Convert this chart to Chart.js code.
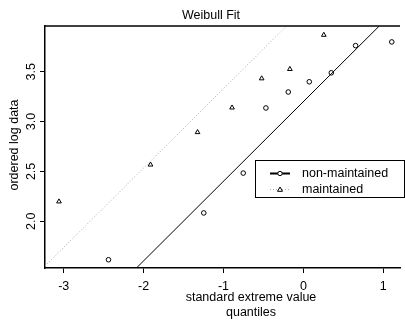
<!DOCTYPE html>
<html>
<head>
<meta charset="utf-8">
<script src="https://cdn.jsdelivr.net/npm/chart.js@4.4.1/dist/chart.umd.min.js"></script>
<style>
html,body{margin:0;padding:0;background:#fff;}
#wrap{width:405px;height:320px;position:relative;}
</style>
</head>
<body>
<div id="wrap"><canvas id="c" width="405" height="320"></canvas></div>
<script>
// Data
const nonMaintainedX = [-2.44, -1.247, -0.753, -0.469, -0.189, 0.074, 0.35, 0.654, 1.107];
const nonMaintainedY = [1.613, 2.083, 2.483, 3.137, 3.297, 3.40, 3.49, 3.763, 3.80];
const maintainedX = [-3.06, -1.914, -1.325, -0.893, -0.522, -0.169, 0.256];
const maintainedY = [2.197, 2.567, 2.893, 3.14, 3.433, 3.527, 3.87];
const nonMaintainedFitX = [-2.09, 0.95];
const nonMaintainedFitY = [1.53, 3.96];
const maintainedFitX = [-3.235, -0.21];
const maintainedFitY = [1.55, 3.96];
const xTicks = [-3, -2, -1, 0, 1];
const yTicks = [2.0, 2.5, 3.0, 3.5];
const seriesNames = ['non-maintained', 'maintained'];
const chartTitle = 'Weibull Fit';
const xTitle = ['standard extreme value', 'quantiles'];
const yTitle = 'ordered log data';

const FONT = 'Liberation Sans, Arial, sans-serif';
const FS = 12.5;
const zip = (xs, ys) => xs.map((x, i) => ({x: x, y: ys[i]}));

const decor = {
  id: 'decor',
  afterDraw(chart) {
    const ctx = chart.ctx, ca = chart.chartArea;
    ctx.save();
    // top border
    ctx.strokeStyle = '#000'; ctx.lineWidth = 1.5;
    ctx.beginPath(); ctx.moveTo(ca.left - 0.75, ca.top); ctx.lineTo(ca.right, ca.top); ctx.stroke();
    // titles
    ctx.fillStyle = '#000';
    ctx.font = FS + 'px ' + FONT;
    ctx.textAlign = 'center'; ctx.textBaseline = 'middle';
    ctx.fillText(chartTitle, 211, 15.5);
    ctx.fillText(xTitle[0], 251, 298);
    ctx.fillText(xTitle[1], 251, 313);
    ctx.save();
    ctx.translate(15, 145); ctx.rotate(-Math.PI / 2);
    ctx.fillText(yTitle, 0, 0);
    ctx.restore();
    // legend
    const bx = 255, by = 160, bw = 149, bh = 37;
    ctx.fillStyle = '#fff'; ctx.fillRect(bx, by, bw, bh);
    ctx.strokeStyle = '#000'; ctx.lineWidth = 1;
    ctx.strokeRect(bx + 0.5, by + 0.5, bw, bh);
    const rows = [by + 13.5, by + 29.5];
    // row 1 solid
    ctx.lineWidth = 2; ctx.setLineDash([]);
    ctx.beginPath(); ctx.moveTo(270, rows[0]); ctx.lineTo(290, rows[0]); ctx.stroke();
    ctx.fillStyle = '#fff';
    ctx.beginPath(); ctx.arc(280, rows[0], 2.2, 0, Math.PI * 2); ctx.fill();
    ctx.lineWidth = 1; ctx.stroke();
    // row 2 dotted
    ctx.strokeStyle = '#aaa'; ctx.setLineDash([1, 2]);
    ctx.beginPath(); ctx.moveTo(270, rows[1]); ctx.lineTo(290, rows[1]); ctx.stroke();
    ctx.setLineDash([]); ctx.strokeStyle = '#000';
    ctx.fillStyle = '#fff';
    ctx.beginPath(); ctx.moveTo(280, rows[1] - 2.5); ctx.lineTo(282.5, rows[1] + 1.8); ctx.lineTo(277.5, rows[1] + 1.8); ctx.closePath();
    ctx.fill(); ctx.stroke();
    ctx.fillStyle = '#000'; ctx.textAlign = 'left'; ctx.font = FS + 'px ' + FONT;
    ctx.fillText(seriesNames[0], 302, rows[0] + 0.5);
    ctx.fillText(seriesNames[1], 302, rows[1] + 0.5);
    ctx.restore();
  }
};

new Chart(document.getElementById('c'), {
  type: 'scatter',
  data: {
    datasets: [
      {label: seriesNames[0] + ' fit', data: zip(nonMaintainedFitX, nonMaintainedFitY), showLine: true,
       borderColor: '#000', borderWidth: 1, pointRadius: 0},
      {label: seriesNames[1] + ' fit', data: zip(maintainedFitX, maintainedFitY), showLine: true,
       borderColor: '#aaa', borderWidth: 1, borderDash: [1, 2], pointRadius: 0},
      {label: seriesNames[0], data: zip(nonMaintainedX, nonMaintainedY), pointStyle: 'circle',
       pointRadius: 2.3, borderColor: '#000', backgroundColor: 'rgba(255,255,255,0)', borderWidth: 1},
      {label: seriesNames[1], data: zip(maintainedX, maintainedY), pointStyle: 'triangle',
       pointRadius: 2.7, borderColor: '#000', backgroundColor: 'rgba(255,255,255,0)', borderWidth: 1}
    ]
  },
  options: {
    responsive: false,
    animation: false,
    devicePixelRatio: 1,
    layout: {padding: {top: 26, left: 0, right: 0, bottom: 0}},
    plugins: {legend: {display: false}, title: {display: false}, tooltip: {enabled: false}},
    scales: {
      x: {
        type: 'linear', min: -3.235, max: 1.21,
        afterBuildTicks: s => { s.ticks = xTicks.map(v => ({value: v})); },
        afterFit: s => { s.height = 52; },
        grid: {display: true, drawOnChartArea: false, drawTicks: true, tickLength: 5, color: '#000', lineWidth: 1},
        border: {display: true, color: '#000', width: 1.5},
        ticks: {color: '#000', font: {family: FONT, size: FS}, padding: 6, maxRotation: 0, autoSkip: false,
                callback: v => String(v)}
      },
      y: {
        type: 'linear', min: 1.53, max: 3.96,
        afterBuildTicks: s => { s.ticks = yTicks.map(v => ({value: v})); },
        afterFit: s => { s.width = 45; },
        grid: {display: true, drawOnChartArea: false, drawTicks: true, tickLength: 5, color: '#000', lineWidth: 1},
        border: {display: true, color: '#000', width: 1.5},
        ticks: {color: '#000', font: {family: FONT, size: FS}, padding: 0, minRotation: 90, maxRotation: 90,
                crossAlign: 'center', autoSkip: false, callback: v => Number(v).toFixed(1)}
      }
    }
  },
  plugins: [decor]
});
</script>
</body>
</html>
